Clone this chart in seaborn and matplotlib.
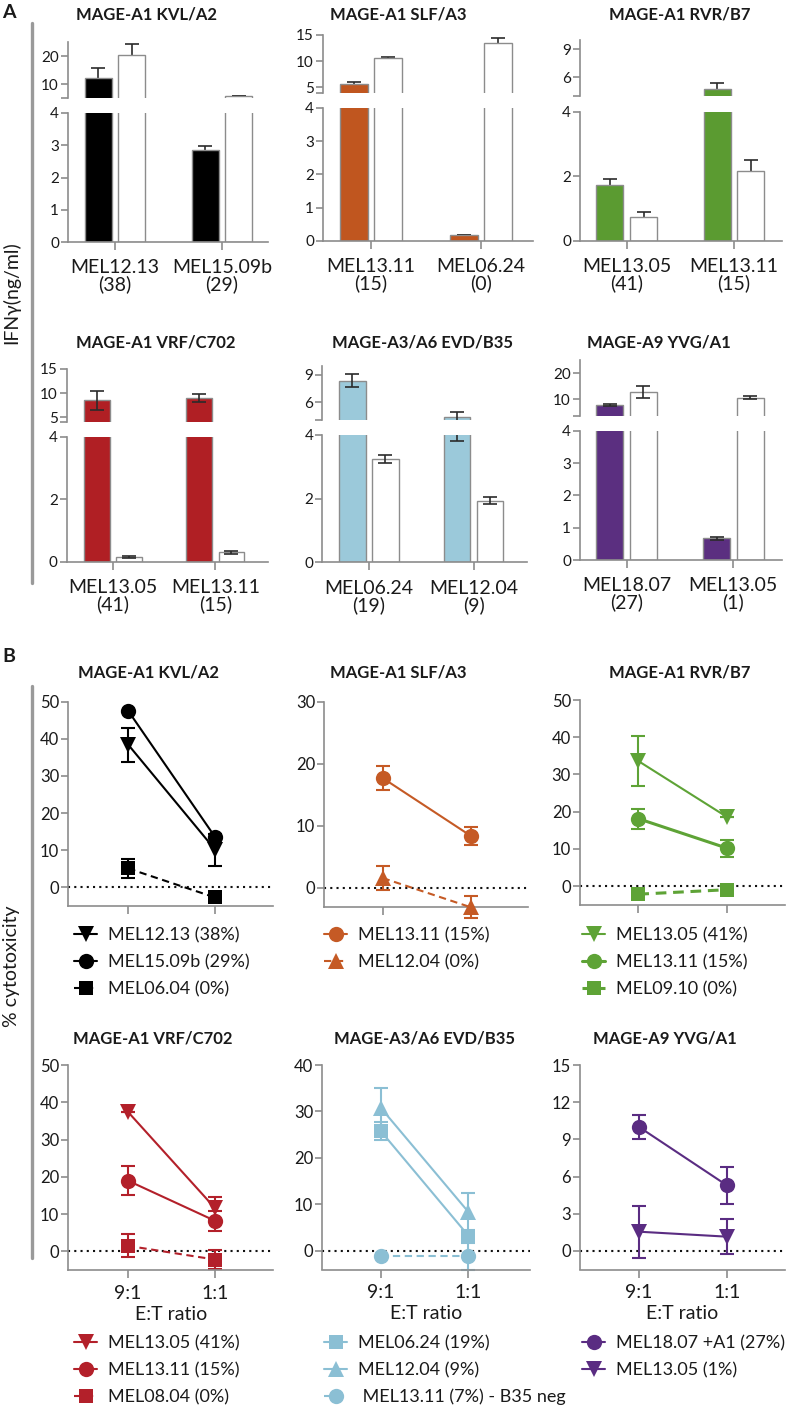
import numpy as np
import pandas as pd
import matplotlib
matplotlib.use("Agg")
import matplotlib.pyplot as plt
import seaborn as sns
from matplotlib.lines import Line2D

# ---------------- data ----------------
titles = ["MAGE-A1 KVL/A2", "MAGE-A1 SLF/A3", "MAGE-A1 RVR/B7",
          "MAGE-A1 VRF/C702", "MAGE-A3/A6 EVD/B35", "MAGE-A9 YVG/A1"]
bar_colors = ["#000000", "#C0561F", "#5B9B31", "#B01F24", "#9BC9DA", "#5B2F80"]
line_colors = ["#000000", "#C55A25", "#5EA336", "#B3202A", "#8BBFD4", "#5A2C82"]

# Panel A: IFN-gamma (ng/ml)
a_cells = [["MEL12.13", "MEL15.09b"], ["MEL13.11", "MEL06.24"], ["MEL13.05", "MEL13.11"],
           ["MEL13.05", "MEL13.11"], ["MEL06.24", "MEL12.04"], ["MEL18.07", "MEL13.05"]]
a_counts = [["(38)", "(29)"], ["(15)", "(0)"], ["(41)", "(15)"],
            ["(41)", "(15)"], ["(19)", "(9)"], ["(27)", "(1)"]]
a_tcr = [[12.1, 2.85], [5.7, 0.17], [1.73, 4.75], [8.5, 9.0], [8.36, 4.35], [7.7, 0.67]]
a_tcr_sd = [[3.6, 0.13], [0.35, 0.0], [0.18, 0.6], [2.0, 0.8], [0.7, 0.55], [0.5, 0.05]]
a_ctrl = [[20.3, 5.8], [10.7, 13.5], [0.73, 2.18], [0.16, 0.30], [3.24, 1.94], [12.7, 10.6]]
a_ctrl_sd = [[3.9, 0.05], [0.2, 0.85], [0.18, 0.32], [0.03, 0.05], [0.12, 0.10], [2.4, 0.6]]
a_upper_ticks = [[5, 10, 20], [4, 5, 10, 15], [4, 6, 9], [4, 5, 10, 15], [4, 6, 9], [3.5, 10, 20]]
a_upper_top = [25, 15, 10, 15, 10, 25]
a_lower_ticks = [[0, 1, 2, 3, 4], [0, 1, 2, 3, 4], [0, 2, 4], [0, 2, 4], [0, 2, 4], [0, 1, 2, 3, 4]]
a_sd_both = [False, False, False, True, True, True]

# Panel B: % cytotoxicity
et_ratios = ["9:1", "1:1"]
b_labels = [["MEL12.13 (38%)", "MEL15.09b (29%)", "MEL06.04 (0%)"],
            ["MEL13.11 (15%)", "MEL12.04 (0%)"],
            ["MEL13.05 (41%)", "MEL13.11 (15%)", "MEL09.10 (0%)"],
            ["MEL13.05 (41%)", "MEL13.11 (15%)", "MEL08.04 (0%)"],
            ["MEL06.24 (19%)", "MEL12.04 (9%)", " MEL13.11 (7%) - B35 neg"],
            ["MEL18.07 +A1 (27%)", "MEL13.05 (1%)"]]
b_values = [[[38.4, 10.2], [47.5, 13.6], [5.1, -2.7]],
            [[17.7, 8.4], [1.6, -3.1]],
            [[33.6, 18.6], [18.1, 10.2], [-2.2, -1.0]],
            [[37.5, 11.6], [19.0, 8.2], [1.5, -2.2]],
            [[25.8, 3.3], [30.8, 8.4], [-1.2, -1.2]],
            [[10.0, 5.3], [1.55, 1.15]]]
b_sd = [[[4.6, 4.3], [0.0, 0.0], [2.5, 0.0]],
        [[2.0, 1.5], [2.0, 1.8]],
        [[6.6, 0.0], [2.7, 2.3], [0.0, 0.0]],
        [[0.0, 3.0], [4.0, 2.7], [3.1, 2.6]],
        [[2.0, 0.0], [4.2, 4.0], [0.0, 3.0]],
        [[1.0, 1.5], [2.1, 1.4]]]
b_markers = [["v", "o", "s"], ["o", "^"], ["v", "o", "s"], ["v", "o", "s"], ["s", "^", "o"], ["o", "v"]]
b_dashed = [[False, False, True], [False, True], [False, False, True],
            [False, False, True], [False, False, True], [False, False]]
b_thick = [[False, False, False], [False, False], [False, True, True],
           [False, False, False], [False, False, False], [False, False]]
b_yticks = [[0, 10, 20, 30, 40, 50], [0, 10, 20, 30], [0, 10, 20, 30, 40, 50],
            [0, 10, 20, 30, 40, 50], [0, 10, 20, 30, 40], [0, 3, 6, 9, 12, 15]]
b_ylim = [(-5, 50), (-3, 30), (-5, 50), (-5, 50), (-4, 40), (-1.5, 15)]

# ---------------- layout (pixels) ----------------
W, H = 787, 1407
A_BOX = [  # left, right, upper_top, upper_bottom, lower_top, lower_bottom, tick0_x, tick1_x
    (68, 268, 42, 98, 113, 242, 115, 222),
    (323, 533, 35, 92.7, 107.7, 241, 371, 481),
    (580, 782, 40, 96, 111.7, 241, 626.7, 734),
    (66.7, 268, 369, 422.3, 436.7, 561.7, 112.8, 215.3),
    (322.3, 527, 366, 420, 435, 562.3, 368.9, 473.7),
    (580, 782, 360, 416, 430.7, 560, 626.7, 733.3),
]
A_TITLE = [(147, 14), (398, 14), (680, 14), (156, 343), (423, 343), (659, 343)]
B_BOX = [  # left, right, top, bottom, tick0_x, tick1_x
    (68.3, 273, 701.7, 906, 128.3, 215),
    (324.3, 528, 701.7, 906.6, 382.7, 470.7),
    (580, 785, 700, 904.6, 638.3, 726.7),
    (68.3, 273, 1065, 1270, 127.7, 215),
    (322.3, 530, 1065, 1269.5, 380.7, 468.3),
    (580, 785, 1065, 1269.5, 639, 726.7),
]
B_TITLE = [(148, 672), (398, 672), (680, 672), (153, 1039), (425, 1039), (665, 1039)]
B_LEG = [(74, 927), (324, 927), (582, 927), (74, 1335), (324, 1335), (582, 1335)]

sns.set_theme(style="ticks")
plt.rcParams["font.family"] = ["Lato", "DejaVu Sans"]
plt.rcParams["axes.edgecolor"] = "#8c8c8c"
plt.rcParams["xtick.color"] = "#8c8c8c"
plt.rcParams["ytick.color"] = "#8c8c8c"
plt.rcParams["xtick.labelcolor"] = "#1a1a1a"
plt.rcParams["ytick.labelcolor"] = "#1a1a1a"

fig = plt.figure(figsize=(W / 100, H / 100), dpi=100)
fig.patch.set_facecolor("white")


def px_axes(left, right, top, bottom):
    ax = fig.add_axes([left / W, 1 - bottom / H, (right - left) / W, (bottom - top) / H])
    ax.set_facecolor("none")
    return ax


def fig_text(x, y, s, **kw):
    fig.text(x / W, 1 - y / H, s, ha="center", va="center", color="#1a1a1a", **kw)


SPINE_LW = 1.2

# ---------------- panel A ----------------
for i in range(6):
    left, right, ut, ub, lt, lb, t0, t1 = A_BOX[i]
    span = t1 - t0
    xlim = ((left - t0) / span, (right - t0) / span)
    df = pd.DataFrame({
        "cell": [f"{c}\n{n}" for c, n in zip(a_cells[i], a_counts[i])] * 2,
        "group": ["TCR"] * 2 + ["control"] * 2,
        "ifng": a_tcr[i] + a_ctrl[i],
        "sd": a_tcr_sd[i] + a_ctrl_sd[i],
    })
    ax_up = px_axes(left, right, ut, ub)
    ax_lo = px_axes(left, right, lt, lb)
    for ax in (ax_up, ax_lo):
        sns.barplot(data=df, x="cell", y="ifng", hue="group", hue_order=["TCR", "control"],
                    palette=[bar_colors[i], "white"], saturation=1, width=0.63, gap=0.2,
                    edgecolor="#8c8c8c", linewidth=1.0, errorbar=None, legend=False, ax=ax)
        xs = [p.get_x() + p.get_width() / 2 for p in ax.patches]
        ax.errorbar(xs, df["ifng"], yerr=df["sd"], fmt="none", ecolor="#2b2b2b",
                    elinewidth=1.2, capsize=5, capthick=1.2,
                    zorder=3 if a_sd_both[i] else 0.5)
        ax.set_xlim(*xlim)
        ax.set_xlabel("")
        ax.set_ylabel("")
        for s in ("top", "right"):
            ax.spines[s].set_visible(False)
        for s in ("left", "bottom"):
            ax.spines[s].set_linewidth(SPINE_LW)
        ax.tick_params(axis="y", length=5, width=SPINE_LW, labelsize=11, pad=1.5)
    # upper part of broken axis
    ax_up.set_ylim(a_upper_ticks[i][0], a_upper_top[i])
    ax_up.set_yticks(a_upper_ticks[i])
    ax_up.set_yticklabels([""] + [f"{t:g}" for t in a_upper_ticks[i][1:]])
    ax_up.spines["bottom"].set_visible(False)
    ax_up.set_xticks([])
    # lower part
    ax_lo.set_ylim(0, 4)
    ax_lo.set_yticks(a_lower_ticks[i])
    ax_lo.set_yticklabels([f"{t:g}" for t in a_lower_ticks[i]])
    ax_lo.tick_params(axis="x", length=5.5, width=SPINE_LW, labelsize=14, pad=7)
    for lab in ax_lo.get_xticklabels():
        lab.set_linespacing(0.95)
    tx, ty = A_TITLE[i]
    fig_text(tx, ty, titles[i], fontsize=12, fontweight="bold")

# ---------------- panel B ----------------
b_pos = list(range(len(et_ratios)))
for i in range(6):
    left, right, top, bottom, t0, t1 = B_BOX[i]
    span = t1 - t0
    ax = px_axes(left, right, top, bottom)
    ax.axhline(0, color="#111111", lw=1.5, linestyle=(0, (1, 2)), zorder=1)
    c = line_colors[i]
    handles = []
    for j, lab in enumerate(b_labels[i]):
        vals = b_values[i][j]
        sd = b_sd[i][j]
        ls = (0, (3.5, 2.2)) if b_dashed[i][j] else "-"
        lw = 2.2 if b_thick[i][j] else 1.5
        m = b_markers[i][j]
        ms = {"o": 11, "v": 11, "^": 11, "s": 9.5}[m]
        ax.errorbar(b_pos, vals, yerr=sd, fmt="none", ecolor=c, elinewidth=1.5,
                    capsize=5, capthick=1.5, zorder=2, clip_on=False)
        n_before = len(ax.lines)
        sns.lineplot(x=b_pos, y=vals, color=c, marker=m, markersize=ms,
                     markeredgecolor=c, markeredgewidth=0, linewidth=lw, linestyle=ls,
                     errorbar=None, ax=ax, zorder=3, clip_on=False)
        ln = ax.lines[n_before]
        ln.set_label(lab)
        handles.append(ln)
    ax.set_xlim((left - t0) / span, (right - t0) / span)
    ax.set_ylim(*b_ylim[i])
    ax.set_yticks(b_yticks[i])
    ax.set_yticklabels([f"{t:g}" for t in b_yticks[i]])
    ax.set_xticks(b_pos)
    ax.set_ylabel("")
    for s in ("top", "right"):
        ax.spines[s].set_visible(False)
    for s in ("left", "bottom"):
        ax.spines[s].set_linewidth(SPINE_LW)
    ax.tick_params(axis="y", length=5, width=SPINE_LW, labelsize=12, pad=1.5)
    ax.tick_params(axis="x", length=5.5, width=SPINE_LW, labelsize=14, pad=5)
    if i >= 3:
        ax.set_xticklabels(et_ratios)
        ax.set_xlabel("E:T ratio", fontsize=14, labelpad=3, color="#1a1a1a")
    else:
        ax.set_xticklabels([])
        ax.set_xlabel("")
    lx, ly = B_LEG[i]
    ax.legend(handles=handles, labels=[h.get_label() for h in handles],
              loc="upper left", bbox_to_anchor=(lx / W, 1 - ly / H),
              bbox_transform=fig.transFigure, frameon=False, borderpad=0,
              borderaxespad=0, handlelength=1.3, handletextpad=0.6,
              labelspacing=0.6, fontsize=13, labelcolor="#1a1a1a")
    tx, ty = B_TITLE[i]
    fig_text(tx, ty, titles[i], fontsize=12, fontweight="bold")

# ---------------- decorations ----------------
fig_text(9, 13, "A", fontsize=14, fontweight="bold")
fig_text(9, 657, "B", fontsize=14, fontweight="bold")
fig_text(11, 293, "IFNγ(ng/ml)", fontsize=14, rotation=90)
fig_text(12, 966, "% cytotoxicity", fontsize=14, rotation=90)
for y0, y1 in ((23, 583), (686, 1258)):
    fig.add_artist(Line2D([31.5 / W, 31.5 / W], [1 - y0 / H, 1 - y1 / H],
                          color="#9a9a9a", lw=2.4, transform=fig.transFigure))

fig.savefig("out.png", dpi=100, facecolor="white")
